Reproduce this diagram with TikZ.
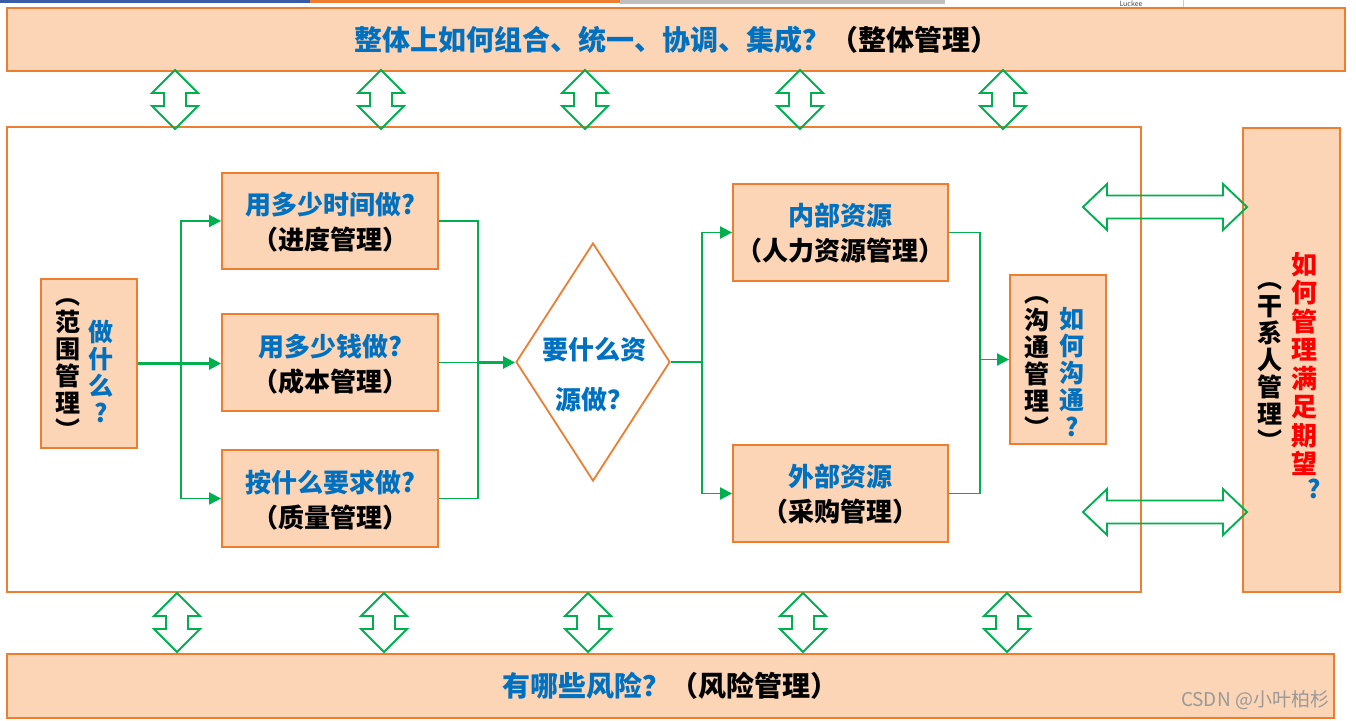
\documentclass[tikz,border=0pt]{standalone}
\usepackage{fontspec}
\setmainfont{Noto Sans CJK SC}
\usepackage{tikz}
\usetikzlibrary{arrows.meta,positioning,shapes.geometric}
\usepackage{xcolor}
\definecolor{peach}{HTML}{FBD5B5}
\definecolor{rim}{HTML}{ED7D31}
\definecolor{grn}{HTML}{00B050}
\definecolor{blu}{HTML}{0070C0}
\definecolor{rd}{HTML}{FF0000}
\definecolor{bar}{HTML}{3A5BA8}

\begin{document}
\begin{tikzpicture}[x=1pt,y=-1pt,
   b/.style={draw=rim,line width=1.8pt,fill=peach,inner sep=0pt},
   t/.style={font=\bfseries\fontsize{26}{35}\selectfont,align=center,inner sep=0pt},
   v/.style={font=\bfseries\fontsize{25}{27}\selectfont,align=center,inner sep=0pt},
   l/.style={grn,line width=1.9pt},
   a/.style={l,-{Triangle[length=12pt,width=12pt]}},
   vd/.pic={\draw[l] (0,-29.5) -- (23,-6.5) -- (11,-6.5) -- (11,6.5) -- (23,6.5) -- (0,29.5)
      -- (-23,6.5) -- (-11,6.5) -- (-11,-6.5) -- (-23,-6.5) -- cycle;},
   hd/.pic={\draw[l] (-82,0) -- (-58,-23) -- (-58,-11.5) -- (58,-11.5) -- (58,-23) -- (82,0)
      -- (58,23) -- (58,11.5) -- (-58,11.5) -- (-58,23) -- cycle;}]
  \clip (0,0) rectangle (1356,720);
  % screenshot edge
  \fill[bar] (0,0) rectangle (310,3);
  \fill[rim] (310,0) rectangle (620,3);
  \fill[black!25] (620,0) rectangle (945,3.5);
  \draw[black!20] (1183,0) -- (1183,8);
  \node[font=\fontsize{7}{7}\selectfont,text=black!70,inner sep=0pt] (lk) at (1131,4) {Luckee};
  % frames
  \node[b,minimum width=1338,minimum height=63] (top) at (676,39.5)
    {\fontsize{28}{28}\selectfont\bfseries\textcolor{blu}{整体上如何组合、统一、协调、集成？}（整体管理）};
  \node[b,minimum width=1327,minimum height=64] (bot) at (670.5,686)
    {\fontsize{28}{28}\selectfont\bfseries\textcolor{blu}{有哪些风险？}（风险管理）};
  \node[draw=rim,line width=1.8pt,minimum width=1134,minimum height=465,inner sep=0pt] (fr) at (574,359.5) {};
  \node[b,minimum width=97,minimum height=464] (sk) at (1291.5,360) {};
  % boxes
  \node[b,minimum width=96,minimum height=169] (sc) at (89,363.5) {};
  \node[b,minimum width=216,minimum height=96] (sh) at (330,221) {};
  \node[t] (sht) at (330,222.5) {\textcolor{blu}{用多少时间做?}\\（进度管理）};
  \node[b,minimum width=216,minimum height=97] (co) at (330,362.5) {};
  \node[t] (cot) at (330,364) {\textcolor{blu}{用多少钱做?}\\（成本管理）};
  \node[b,minimum width=216,minimum height=97] (qu) at (330,498.5) {};
  \node[t] (qut) at (330,500) {\textcolor{blu}{按什么要求做?}\\（质量管理）};
  \node[diamond,draw=rim,line width=1.8pt,minimum width=154,minimum height=238,inner sep=0pt] (rs) at (593,362) {};
  \node[t,font=\bfseries\fontsize{26}{50}\selectfont,text=blu] (rst) at (594,375) {要什么资\\源做？};
  \node[b,minimum width=215,minimum height=97] (in) at (840.5,232.5) {};
  \node[t] (int) at (840.5,233.5) {\textcolor{blu}{内部资源}\\（人力资源管理）};
  \node[b,minimum width=215,minimum height=97] (ex) at (840.5,493.5) {};
  \node[t] (ext) at (840.5,494) {\textcolor{blu}{外部资源}\\（采购管理）};
  \node[b,minimum width=96,minimum height=169] (cm) at (1058,359.5) {};
  % vertical texts
  \node[v] (sc1) at (68,369.5) {︵\\范\\围\\管\\理\\︶};
  \node[v,text=blu] (sc2) at (101,371) {做\\什\\么\\?};
  \node[v] (cm1) at (1037,367.5) {︵\\沟\\通\\管\\理\\︶};
  \node[v,text=blu] (cm2) at (1072,372) {如\\何\\沟\\通\\?};
  \node[v] (sk1) at (1270,366.5) {︵\\干\\系\\人\\管\\理\\︶};
  \node[v,text=rd,font=\bfseries\fontsize{26}{28.5}\selectfont] (sk2) at (1304,364) {如\\何\\管\\理\\满\\足\\期\\望};
  \node[v,text=blu] (sk3) at (1314,489) {?};
  % connectors
  \coordinate (j1) at ([xshift=43]sc.east);
  \draw[a,line width=2.6pt] (sc.east) -- (sc.east -| co.west);
  \draw[a] (j1) |- (sh.west);
  \draw[a] (j1) |- (qu.west);
  \coordinate (j2) at ([xshift=39]co.east);
  \draw[l] (sh.east) -| (j2) |- (qu.east);
  \draw[l] (co.east) -- (j2);
  \draw[a,line width=2.6pt] (j2) -- (j2 -| rs.west);
  \coordinate (j3) at ([xshift=31]rs.east);
  \draw[l] (rs.east) -- (j3);
  \draw[a] (j3) |- (in.west);
  \draw[a] (j3) |- (ex.west);
  \coordinate (j4) at ([xshift=31]in.east |- cm.west);
  \draw[l] (in.east) -| (j4) |- (ex.east);
  \draw[a] (j4) -- (cm.west);
  % double arrows
  \foreach \x [count=\i] in {175,381,585,800,1003}
    \pic (u\i) at (\x,99.5) {vd};
  \foreach \x [count=\i] in {177,384,588,803,1007}
    \pic (d\i) at (\x,622.5) {vd};
  \pic (h1) at (1165,207) {hd};
  \pic (h2) at (1165,512) {hd};
  % watermark
  \node[font=\fontsize{19}{19}\selectfont,text=black!40] (wm) at (1255,700) {CSDN @小叶柏杉};
\end{tikzpicture}
\end{document}
